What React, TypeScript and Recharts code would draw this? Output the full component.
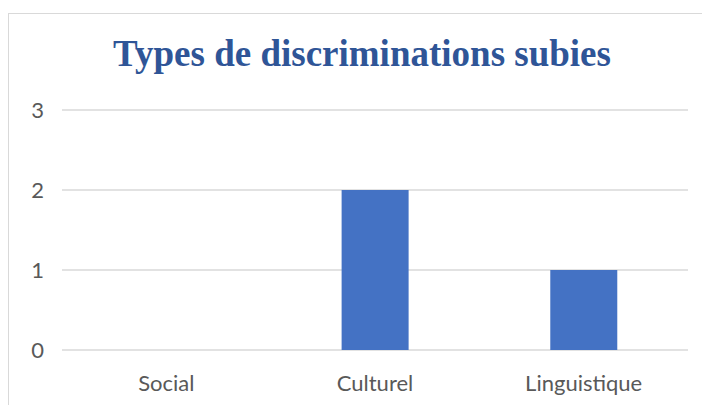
import { BarChart, Bar, XAxis, YAxis, CartesianGrid } from "recharts"

const categories = ["Social", "Culturel", "Linguistique"]
const counts = [0, 2, 1]
const yTicks = [0, 1, 2, 3]

const chartData = categories.map((name, i) => ({ name, count: counts[i] }))

const labelFont = "Lato, 'Open Sans', sans-serif"

export default function App() {
  return (
    <div style={{ position: "absolute", left: 0, top: 0, width: 702, height: 405, overflow: "hidden", background: "#fff" }}>
      <div
        style={{
          position: "absolute",
          left: 8,
          top: 13,
          width: 720,
          height: 420,
          border: "1px solid #d9d9d9",
          boxSizing: "border-box",
        }}
      />
      <div
        style={{
          position: "absolute",
          left: 0,
          top: 32,
          width: 724,
          textAlign: "center",
          fontFamily: "'Liberation Serif', 'Times New Roman', serif",
          fontWeight: "bold",
          fontSize: 37,
          lineHeight: "44px",
          color: "#2F5597",
        }}
      >
        Types de discriminations subies
      </div>
      <div style={{ position: "absolute", left: 0, top: 0 }}>
        <BarChart
          width={702}
          height={405}
          data={chartData}
          margin={{ top: 110, right: 14, left: 0, bottom: 25 }}
          barCategoryGap="34%"
        >
          <CartesianGrid horizontal vertical={false} stroke="#d9d9d9" strokeWidth={1.5} />
          <XAxis
            dataKey="name"
            axisLine={false}
            tickLine={false}
            tickSize={0}
            tickMargin={25}
            height={30}
            tick={{ fill: "#595959", fontSize: 22, fontFamily: labelFont }}
          />
          <YAxis
            domain={[0, 3]}
            ticks={yTicks}
            axisLine={false}
            tickLine={false}
            tickSize={0}
            tickMargin={18}
            width={62}
            tick={{ fill: "#595959", fontSize: 22, fontFamily: labelFont }}
          />
          <Bar dataKey="count" fill="#4472C4" isAnimationActive={false} />
        </BarChart>
      </div>
    </div>
  )
}
